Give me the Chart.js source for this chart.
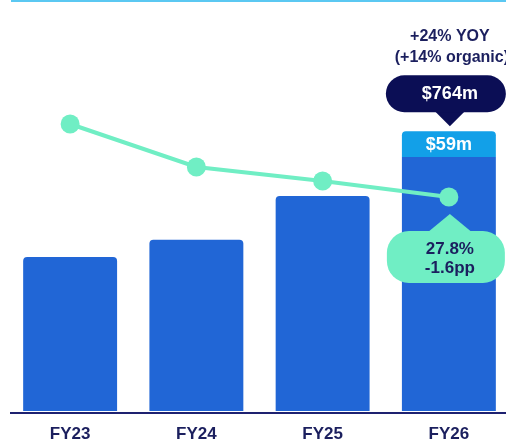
<!DOCTYPE html>
<html>
<head>
<meta charset="utf-8">
<script src="https://cdn.jsdelivr.net/npm/chart.js@4.4.1/dist/chart.umd.min.js"></script>
<style>
  html, body { margin: 0; padding: 0; overflow: hidden; background: #fff; }
  #wrap { position: relative; width: 512px; height: 442px; }
  canvas { display: block; }
</style>
</head>
<body>
<div id="wrap"><canvas id="chart" width="512" height="442"></canvas></div>
<script>
'use strict';

// data ($m and %)
var years = ['FY23', 'FY24', 'FY25', 'FY26'];
var revenue = [476, 516, 616, 705];
var acquired = [null, null, null, 59];
var margin = [35.1, 30.8, 29.4, 27.8];
var growthText = ['+24% YOY', '(+14% organic)'];
var marginText = ['27.8%', '-1.6pp'];

var NAVY = '#0b0e55';
var TEXT = '#1b1f5e';
var BLUE = '#2166d6';
var SKY = '#12a0e8';
var MINT = '#70eec4';
var FONT = '"Liberation Sans", Arial, sans-serif';


var pill = function(ctx, x, y, w, h, r){
  ctx.beginPath();
  ctx.moveTo(x + r, y);
  ctx.lineTo(x + w - r, y);
  ctx.arc(x + w - r, y + r, r, -Math.PI / 2, 0);
  ctx.lineTo(x + w, y + h - r);
  ctx.arc(x + w - r, y + h - r, r, 0, Math.PI / 2);
  ctx.lineTo(x + r, y + h);
  ctx.arc(x + r, y + h - r, r, Math.PI / 2, Math.PI);
  ctx.lineTo(x, y + r);
  ctx.arc(x + r, y + r, r, Math.PI, Math.PI * 1.5);
  ctx.closePath();
  ctx.fill();
};

var triangle = function(ctx, tipX, tipY, baseY, half){
  ctx.beginPath();
  ctx.moveTo(tipX, tipY);
  ctx.lineTo(tipX - half, baseY);
  ctx.lineTo(tipX + half, baseY);
  ctx.closePath();
  ctx.fill();
};


//
//  annotations, frame lines
//
var callouts = {
  id: 'callouts',
  afterDatasetsDraw: function(chart){
    var ctx = chart.ctx;
    var xs = chart.scales.x, ys = chart.scales.y, y1 = chart.scales.y1;
    var last = years.length - 1;
    var cx = xs.getPixelForValue(last);
    var total = revenue[last] + acquired[last];

    ctx.save();

    // top rule and baseline
    ctx.fillStyle = '#5bc8f2';
    ctx.fillRect(11, 0, 495, 2);
    ctx.fillStyle = '#1e2170';
    ctx.fillRect(10, chart.chartArea.bottom + 1, 496, 2);

    ctx.textAlign = 'center';
    ctx.textBaseline = 'middle';

    // acquired segment label
    var segTop = ys.getPixelForValue(total);
    var segBot = ys.getPixelForValue(revenue[last]);
    ctx.fillStyle = '#fff';
    ctx.font = 'bold 18px ' + FONT;
    ctx.fillText('$' + acquired[last] + 'm', cx, (segTop + segBot) / 2 + 1);

    // total bubble
    var tip = segTop - 5;
    var pb = tip - 14;
    var pt = pb - 37;
    ctx.fillStyle = NAVY;
    triangle(ctx, cx + 1, tip, pb - 2, 16);
    pill(ctx, cx - 63, pt, 120, 37, 18.5);
    ctx.fillStyle = '#fff';
    ctx.font = 'bold 18px ' + FONT;
    ctx.fillText('$' + total + 'm', cx + 1, pt + 19);

    ctx.fillStyle = TEXT;
    ctx.font = 'bold 16px ' + FONT;
    ctx.fillText(growthText[0], cx + 1, pt - 39);
    ctx.fillText(growthText[1], cx + 3, pt - 18);

    // margin bubble
    var py = y1.getPixelForValue(margin[last]);
    var gtip = py + 17;
    var gtop = gtip + 17;
    ctx.fillStyle = MINT;
    triangle(ctx, cx + 1, gtip, gtop + 2, 23);
    pill(ctx, cx - 62, gtop, 118, 52, 22);
    ctx.fillStyle = TEXT;
    ctx.font = 'bold 17px ' + FONT;
    ctx.fillText(marginText[0], cx + 1, gtop + 18);
    ctx.fillText(marginText[1], cx + 1, gtop + 37);

    ctx.restore();
  }
};


var chart = new Chart(document.getElementById('chart'), {
  type: 'bar',
  data: {
    labels: years,
    datasets: [
      {
        type: 'line',
        data: margin,
        yAxisID: 'y1',
        borderColor: MINT,
        backgroundColor: MINT,
        borderWidth: 4,
        pointRadius: 9.5,
        pointHoverRadius: 9.5,
        pointBorderWidth: 0,
        tension: 0,
        clip: false,
        order: 0
      },
      {
        data: revenue,
        backgroundColor: BLUE,
        borderRadius: function(c){ return c.dataIndex === years.length - 1 ? 0 : 4; },
        borderSkipped: 'start',
        barPercentage: 0.744,
        categoryPercentage: 1,
        order: 1
      },
      {
        data: acquired,
        backgroundColor: SKY,
        borderRadius: 4,
        borderSkipped: 'start',
        barPercentage: 0.744,
        categoryPercentage: 1,
        order: 1
      }
    ]
  },
  options: {
    responsive: false,
    animation: false,
    devicePixelRatio: 1,
    layout: { autoPadding: false, padding: { left: 7, right: 0, top: 11, bottom: -16 } },
    plugins: { legend: { display: false }, tooltip: { enabled: false } },
    scales: {
      x: {
        stacked: true,
        grid: { display: false, drawTicks: false },
        border: { display: false },
        ticks: {
          color: TEXT,
          padding: 15,
          font: { family: FONT, size: 17, weight: 'bold', lineHeight: 1 }
        }
      },
      y: { stacked: true, display: false, min: 124, max: 1039 },
      y1: { display: false, min: 6.4, max: 46.4 }
    }
  },
  plugins: [callouts]
});
</script>
</body>
</html>
